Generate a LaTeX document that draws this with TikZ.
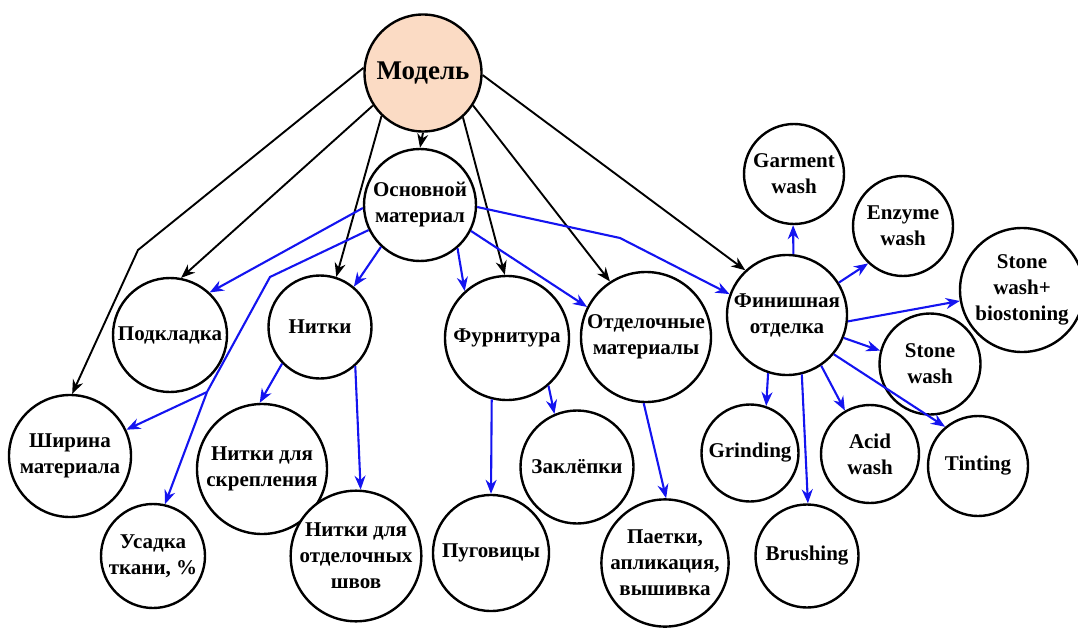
\documentclass[tikz,border=0pt]{standalone}
\usepackage{fontspec}
\newfontfamily\bubblefont{LiberationSerif}[Extension=.ttf,UprightFont=*-Bold,BoldFont=*-Bold]
\usetikzlibrary{arrows.meta}
\definecolor{peach}{RGB}{251,219,196}
\definecolor{edgeblue}{RGB}{20,20,240}
\begin{document}
\begin{tikzpicture}[x=1pt,y=-1pt,
  bubble/.style={circle,draw=black,line width=2.4pt,fill=white,inner sep=0pt,
    align=center,font=\bubblefont\fontsize{21}{26}\selectfont},
  main/.style={line width=1.9pt,draw=black,-{Stealth[length=14pt,width=11pt]}},
  sub/.style={line width=2.1pt,draw=edgeblue,-{Stealth[length=14pt,width=11pt]}},
  plain/.style={line width=2.1pt,draw=edgeblue}]
\useasboundingbox (0,0) rectangle (1078,631);

% nodes
\node[bubble,fill=peach,minimum size=117pt,font=\bubblefont\fontsize{27}{30}\selectfont] (model) at (423,73) {Модель};
\node[bubble,minimum size=112pt] (osn) at (420,205) {Основной\\материал};
\node[bubble,minimum size=114pt] (podkl) at (170,335) {Подкладка};
\node[bubble,minimum size=103pt] (nitki) at (320,327) {Нитки};
\node[bubble,minimum size=122pt] (shir) at (70,456) {Ширина\\материала};
\node[bubble,minimum size=130pt] (skrep) at (262,469) {Нитки для\\скрепления};
\node[bubble,minimum size=104pt] (usad) at (153,556) {Усадка\\ткани, \%};
\node[bubble,minimum size=122pt] (shvy) at (356,556) {Нитки для\\отделочных\\швов};
\node[bubble,minimum size=124pt] (furn) at (507,338) {Фурнитура};
\node[bubble,minimum size=130pt] (otdel) at (646,337) {Отделочные\\материалы};
\node[bubble,minimum size=113pt] (zakl) at (577,467) {Заклёпки};
\node[bubble,minimum size=116pt] (pugov) at (491,553) {Пуговицы};
\node[bubble,minimum size=124pt] (paetki) at (665,563) {Паетки,\\апликация,\\вышивка};
\node[bubble,minimum size=120pt] (fin) at (787,315) {Финишная\\отделка};
\node[bubble,minimum size=100pt] (garm) at (794,174) {Garment\\wash};
\node[bubble,minimum size=100pt] (enz) at (903,226) {Enzyme\\wash};
\node[bubble,minimum size=124pt] (bio) at (1022,290) {Stone\\wash+\\biostoning};
\node[bubble,minimum size=101pt] (stone) at (930,364) {Stone\\wash};
\node[bubble,minimum size=97pt] (grind) at (750,453) {Grinding};
\node[bubble,minimum size=98pt] (acid) at (870,454) {Acid\\wash};
\node[bubble,minimum size=100pt] (tint) at (978,466) {Tinting};
\node[bubble,minimum size=103pt] (brush) at (807,556) {Brushing};

% routing points
\coordinate (kShir) at (138,250);
\coordinate (kUs1) at (270,277);
\coordinate (kUs2) at (207,392);
\coordinate (kFin) at (620,238);

% black connectors from the model
\draw[main] (model.175) -- (kShir) -- (shir.88);
\draw[main] (model.213) -- (podkl.79);
\draw[main] (model.226) -- (nitki.72);
\draw[main] (model.-90) -- (osn.90);
\draw[main] (model.-48) -- (furn.92);
\draw[main] (model.-33) -- (otdel.123);
\draw[main] (model.-2) -- (fin.133);

% blue connectors from the main fabric
\draw[sub] (osn.183) -- (podkl.47);
\draw[plain] (osn.206) -- (kUs1) -- (kUs2);
\draw[sub] (kUs2) -- (shir.25);
\draw[sub] (kUs2) -- (usad.77);
\draw[sub] (osn.227) -- (nitki.50);
\draw[sub] (osn.-49) -- (furn.132);
\draw[sub] (osn.-27) -- (otdel.153);
\draw[sub] (osn.-2) -- (kFin) -- (fin.160);

% second level
\draw[sub] (nitki.224) -- (skrep.92);
\draw[sub] (nitki.-48) -- (shvy.86);
\draw[sub] (furn.256) -- (pugov.90);
\draw[sub] (furn.-49) -- (zakl.113);
\draw[sub] (otdel.268) -- (paetki.89);

% finishing treatments
\draw[sub] (fin.84) -- (garm.-91);
\draw[sub] (fin.32) -- (enz.227);
\draw[sub] (fin.-6) -- (bio.190);
\draw[sub] (fin.-22) -- (stone.165);
\draw[sub] (fin.252) -- (grind.71);
\draw[sub] (fin.284) -- (brush.89);
\draw[sub] (fin.-56) -- (acid.120);
\draw[sub] (fin.-40) -- (tint.130);
\end{tikzpicture}
\end{document}
